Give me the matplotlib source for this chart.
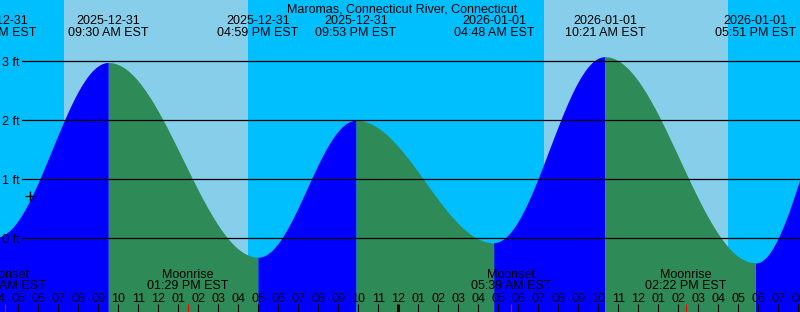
import matplotlib
matplotlib.use("Agg")
import matplotlib.pyplot as plt
import numpy as np
from matplotlib.transforms import blended_transform_factory

plt.rcParams['font.family'] = ['Liberation Sans', 'DejaVu Sans']

# ---------------- data ----------------
title = "Maromas, Connecticut River, Connecticut"

# tide extremes, hours since 2025-12-31 00:00 EST
tide_hours = [3.87, 9.5, 16.983, 21.883, 28.8, 34.35, 41.85, 46.85]
tide_heights = [0.02, 2.98, -0.32, 2.0, -0.08, 3.07, -0.42, 3.0]
tide_dates = ["2025-12-31", "2025-12-31", "2025-12-31", "2025-12-31",
              "2026-01-01", "2026-01-01", "2026-01-01", "2026-01-01"]
tide_times = ["03:52 AM EST", "09:30 AM EST", "04:59 PM EST", "09:53 PM EST",
              "04:48 AM EST", "10:21 AM EST", "05:51 PM EST", "10:51 PM EST"]

sunrise_hours = [7.285, 31.285]
sunset_hours = [16.485, 40.47]

moon_hours = [4.35, 13.483, 29.65, 38.367]
moon_events = ["Moonset", "Moonrise", "Moonset", "Moonrise"]
moon_times = ["04:21 AM EST", "01:29 PM EST", "05:39 AM EST", "02:22 PM EST"]

now_hour = 5.585
now_height = 0.72

y_levels = [0, 1, 2, 3]
y_labels = ["0 ft", "1 ft", "2 ft", "3 ft"]

x_start, x_end = 4.085, 44.085
y_min, y_max = -1.249, 4.039

# ---------------- figure ----------------
W, H = 800, 312
fig = plt.figure(figsize=(8, 3.12), dpi=100)
ax = fig.add_axes([0, 0, 1, 1])
ax.set_xlim(x_start, x_end)
ax.set_ylim(y_min, y_max)
ax.axis("off")
fs = 9

night = "#00BFFF"
day = "#87CEEB"
rise_c = "#0000FF"
fall_c = "#2E8B57"

ax.axvspan(x_start - 5, x_end + 5, color=night, zorder=0, lw=0)
for sr, ss in zip(sunrise_hours, sunset_hours):
    ax.axvspan(sr, ss, color=day, zorder=0.5, lw=0)

# tide curve: cosine between successive extremes
for i in range(len(tide_hours) - 1):
    t0, t1 = tide_hours[i], tide_hours[i + 1]
    h0, h1 = tide_heights[i], tide_heights[i + 1]
    t = np.linspace(t0, t1, 200)
    h = h0 + (h1 - h0) * (1 - np.cos(np.pi * (t - t0) / (t1 - t0))) / 2
    col = rise_c if h1 > h0 else fall_c
    ax.fill_between(t, y_min - 1, h, color=col, lw=0, zorder=1)

# grid lines
for lv, lb in zip(y_levels, y_labels):
    ax.axhline(lv, xmin=22 / W, xmax=1, color="black", lw=0.9, zorder=3)
    ax.text(2.5 / W, lv - 0.08, lb, transform=blended_transform_factory(ax.transAxes, ax.transData),
            ha="left", va="baseline", fontsize=fs, color="black", zorder=4)

bt = blended_transform_factory(ax.transData, ax.transAxes)

def fy(px):
    return 1 - px / H

# title
ax.text(402 / W, fy(12), title, transform=ax.transAxes, ha="center", va="baseline",
        fontsize=fs, color="black", zorder=5)

# tide labels
for th, d, tm in zip(tide_hours, tide_dates, tide_times):
    if x_start - 2 < th < x_end + 2:
        ax.text(th, fy(24), d, transform=bt, ha="center", va="baseline", fontsize=fs, zorder=5)
        ax.text(th, fy(36), tm, transform=bt, ha="center", va="baseline", fontsize=fs, zorder=5)

# hour ticks
for hr in range(4, 45):
    lw = 2.2 if hr % 24 == 0 else 0.8
    ax.plot([hr, hr], [0, 8 / H], transform=bt, color="black", lw=lw,
            solid_capstyle="butt", zorder=4)
    lab = "%02d" % ((hr % 12) or 12)
    ax.text(hr, fy(302), lab, transform=bt, ha="center", va="baseline", fontsize=fs, zorder=5)

# moon events
for mh, ev, mt in zip(moon_hours, moon_events, moon_times):
    ax.plot([mh, mh], [0, 8 / H], transform=bt, color="red", lw=0.8,
            solid_capstyle="butt", zorder=4)
    ax.text(mh, fy(278), ev, transform=bt, ha="center", va="baseline", fontsize=fs, zorder=5)
    ax.text(mh, fy(289), mt, transform=bt, ha="center", va="baseline", fontsize=fs, zorder=5)

# current time marker
ax.plot([now_hour], [now_height], marker="+", color="black", markersize=7,
        markeredgewidth=1.0, zorder=6)

fig.savefig("out.png", dpi=100)
